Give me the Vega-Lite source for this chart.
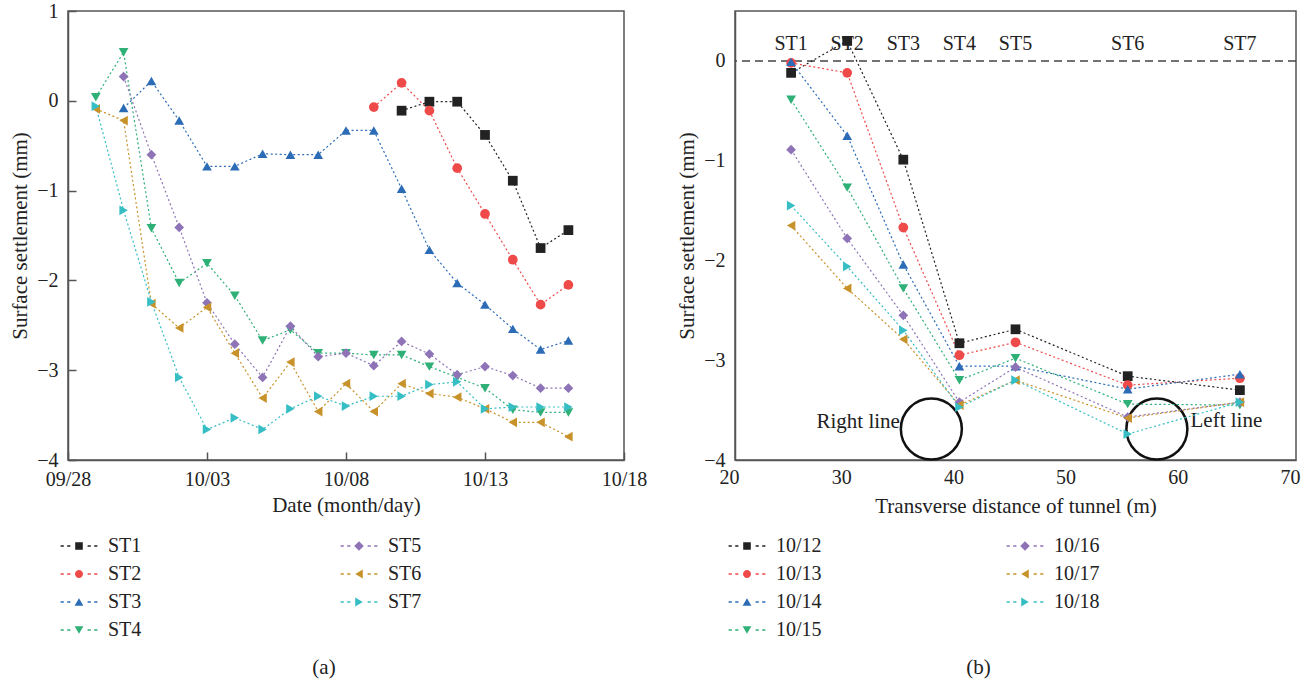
{
  "$schema": "https://vega.github.io/schema/vega-lite/v6.json",
  "padding": {"left": 8, "top": 0, "right": 0, "bottom": 0},
  "spacing": 27,
  "resolve": {"scale": {"fill": "independent", "stroke": "independent", "shape": "independent"}, "legend": {"fill": "independent", "stroke": "independent", "shape": "independent"}},
  "config": {
    "font": "Liberation Serif",
    "view": {"stroke": "#555555", "strokeWidth": 1.5},
    "axis": {"grid": false, "labelFont": "Liberation Serif", "titleFont": "Liberation Serif", "labelFontSize": 20, "titleFontSize": 21, "titleFontWeight": "normal", "labelColor": "#222222", "titleColor": "#222222", "domainColor": "#555555", "domainWidth": 1.5, "tickColor": "#555555", "tickWidth": 1.5, "labelFlush": false, "labelOverlap": false},
    "title": {"font": "Liberation Serif", "fontSize": 21, "fontWeight": "normal", "color": "#222222"},
    "legend": {"labelFont": "Liberation Serif", "labelFontSize": 20, "labelColor": "#222222", "symbolSize": 64, "symbolStrokeWidth": 0, "symbolOpacity": 1, "padding": 0, "rowPadding": 8, "labelOffset": 19}
  },
  "datasets": {
    "left": [
      {"series": "ST1", "date": "2019-10-10T00:00", "value": -0.11},
      {"series": "ST1", "date": "2019-10-11T00:00", "value": -0.01},
      {"series": "ST1", "date": "2019-10-12T00:00", "value": -0.01},
      {"series": "ST1", "date": "2019-10-13T00:00", "value": -0.38},
      {"series": "ST1", "date": "2019-10-14T00:00", "value": -0.89},
      {"series": "ST1", "date": "2019-10-15T00:00", "value": -1.64},
      {"series": "ST1", "date": "2019-10-16T00:00", "value": -1.44},
      {"series": "ST2", "date": "2019-10-09T00:00", "value": -0.07},
      {"series": "ST2", "date": "2019-10-10T00:00", "value": 0.20},
      {"series": "ST2", "date": "2019-10-11T00:00", "value": -0.11},
      {"series": "ST2", "date": "2019-10-12T00:00", "value": -0.75},
      {"series": "ST2", "date": "2019-10-13T00:00", "value": -1.26},
      {"series": "ST2", "date": "2019-10-14T00:00", "value": -1.77},
      {"series": "ST2", "date": "2019-10-15T00:00", "value": -2.27},
      {"series": "ST2", "date": "2019-10-16T00:00", "value": -2.05},
      {"series": "ST3", "date": "2019-09-30T00:00", "value": -0.08},
      {"series": "ST3", "date": "2019-10-01T00:00", "value": 0.22},
      {"series": "ST3", "date": "2019-10-02T00:00", "value": -0.22},
      {"series": "ST3", "date": "2019-10-03T00:00", "value": -0.73},
      {"series": "ST3", "date": "2019-10-04T00:00", "value": -0.73},
      {"series": "ST3", "date": "2019-10-05T00:00", "value": -0.59},
      {"series": "ST3", "date": "2019-10-06T00:00", "value": -0.60},
      {"series": "ST3", "date": "2019-10-07T00:00", "value": -0.60},
      {"series": "ST3", "date": "2019-10-08T00:00", "value": -0.33},
      {"series": "ST3", "date": "2019-10-09T00:00", "value": -0.33},
      {"series": "ST3", "date": "2019-10-10T00:00", "value": -0.98},
      {"series": "ST3", "date": "2019-10-11T00:00", "value": -1.66},
      {"series": "ST3", "date": "2019-10-12T00:00", "value": -2.03},
      {"series": "ST3", "date": "2019-10-13T00:00", "value": -2.27},
      {"series": "ST3", "date": "2019-10-14T00:00", "value": -2.54},
      {"series": "ST3", "date": "2019-10-15T00:00", "value": -2.77},
      {"series": "ST3", "date": "2019-10-16T00:00", "value": -2.67},
      {"series": "ST4", "date": "2019-09-29T00:00", "value": 0.04},
      {"series": "ST4", "date": "2019-09-30T00:00", "value": 0.54},
      {"series": "ST4", "date": "2019-10-01T00:00", "value": -1.42},
      {"series": "ST4", "date": "2019-10-02T00:00", "value": -2.03},
      {"series": "ST4", "date": "2019-10-03T00:00", "value": -1.81},
      {"series": "ST4", "date": "2019-10-04T00:00", "value": -2.17},
      {"series": "ST4", "date": "2019-10-05T00:00", "value": -2.67},
      {"series": "ST4", "date": "2019-10-06T00:00", "value": -2.55},
      {"series": "ST4", "date": "2019-10-07T00:00", "value": -2.81},
      {"series": "ST4", "date": "2019-10-08T00:00", "value": -2.81},
      {"series": "ST4", "date": "2019-10-09T00:00", "value": -2.83},
      {"series": "ST4", "date": "2019-10-10T00:00", "value": -2.83},
      {"series": "ST4", "date": "2019-10-11T00:00", "value": -2.96},
      {"series": "ST4", "date": "2019-10-12T00:00", "value": -3.08},
      {"series": "ST4", "date": "2019-10-13T00:00", "value": -3.20},
      {"series": "ST4", "date": "2019-10-14T00:00", "value": -3.44},
      {"series": "ST4", "date": "2019-10-15T00:00", "value": -3.47},
      {"series": "ST4", "date": "2019-10-16T00:00", "value": -3.47},
      {"series": "ST5", "date": "2019-09-30T00:00", "value": 0.27},
      {"series": "ST5", "date": "2019-10-01T00:00", "value": -0.60},
      {"series": "ST5", "date": "2019-10-02T00:00", "value": -1.41},
      {"series": "ST5", "date": "2019-10-03T00:00", "value": -2.25},
      {"series": "ST5", "date": "2019-10-04T00:00", "value": -2.71},
      {"series": "ST5", "date": "2019-10-05T00:00", "value": -3.08},
      {"series": "ST5", "date": "2019-10-06T00:00", "value": -2.51},
      {"series": "ST5", "date": "2019-10-07T00:00", "value": -2.85},
      {"series": "ST5", "date": "2019-10-08T00:00", "value": -2.81},
      {"series": "ST5", "date": "2019-10-09T00:00", "value": -2.95},
      {"series": "ST5", "date": "2019-10-10T00:00", "value": -2.68},
      {"series": "ST5", "date": "2019-10-11T00:00", "value": -2.82},
      {"series": "ST5", "date": "2019-10-12T00:00", "value": -3.05},
      {"series": "ST5", "date": "2019-10-13T00:00", "value": -2.96},
      {"series": "ST5", "date": "2019-10-14T00:00", "value": -3.06},
      {"series": "ST5", "date": "2019-10-15T00:00", "value": -3.20},
      {"series": "ST5", "date": "2019-10-16T00:00", "value": -3.20},
      {"series": "ST6", "date": "2019-09-29T00:00", "value": -0.09},
      {"series": "ST6", "date": "2019-09-30T00:00", "value": -0.22},
      {"series": "ST6", "date": "2019-10-01T00:00", "value": -2.26},
      {"series": "ST6", "date": "2019-10-02T00:00", "value": -2.53},
      {"series": "ST6", "date": "2019-10-03T00:00", "value": -2.30},
      {"series": "ST6", "date": "2019-10-04T00:00", "value": -2.81},
      {"series": "ST6", "date": "2019-10-05T00:00", "value": -3.31},
      {"series": "ST6", "date": "2019-10-06T00:00", "value": -2.91},
      {"series": "ST6", "date": "2019-10-07T00:00", "value": -3.46},
      {"series": "ST6", "date": "2019-10-08T00:00", "value": -3.15},
      {"series": "ST6", "date": "2019-10-09T00:00", "value": -3.46},
      {"series": "ST6", "date": "2019-10-10T00:00", "value": -3.15},
      {"series": "ST6", "date": "2019-10-11T00:00", "value": -3.26},
      {"series": "ST6", "date": "2019-10-12T00:00", "value": -3.30},
      {"series": "ST6", "date": "2019-10-13T00:00", "value": -3.43},
      {"series": "ST6", "date": "2019-10-14T00:00", "value": -3.58},
      {"series": "ST6", "date": "2019-10-15T00:00", "value": -3.58},
      {"series": "ST6", "date": "2019-10-16T00:00", "value": -3.74},
      {"series": "ST7", "date": "2019-09-29T00:00", "value": -0.06},
      {"series": "ST7", "date": "2019-09-30T00:00", "value": -1.22},
      {"series": "ST7", "date": "2019-10-01T00:00", "value": -2.24},
      {"series": "ST7", "date": "2019-10-02T00:00", "value": -3.08},
      {"series": "ST7", "date": "2019-10-03T00:00", "value": -3.66},
      {"series": "ST7", "date": "2019-10-04T00:00", "value": -3.53},
      {"series": "ST7", "date": "2019-10-05T00:00", "value": -3.66},
      {"series": "ST7", "date": "2019-10-06T00:00", "value": -3.43},
      {"series": "ST7", "date": "2019-10-07T00:00", "value": -3.29},
      {"series": "ST7", "date": "2019-10-08T00:00", "value": -3.40},
      {"series": "ST7", "date": "2019-10-09T00:00", "value": -3.29},
      {"series": "ST7", "date": "2019-10-10T00:00", "value": -3.29},
      {"series": "ST7", "date": "2019-10-11T00:00", "value": -3.16},
      {"series": "ST7", "date": "2019-10-12T00:00", "value": -3.13},
      {"series": "ST7", "date": "2019-10-13T00:00", "value": -3.43},
      {"series": "ST7", "date": "2019-10-14T00:00", "value": -3.41},
      {"series": "ST7", "date": "2019-10-15T00:00", "value": -3.41},
      {"series": "ST7", "date": "2019-10-16T00:00", "value": -3.41}
    ],
    "right": [
      {"day": "10/12", "distance": 25, "value": -0.12},
      {"day": "10/12", "distance": 30, "value": 0.20},
      {"day": "10/12", "distance": 35, "value": -0.99},
      {"day": "10/12", "distance": 40, "value": -2.83},
      {"day": "10/12", "distance": 45, "value": -2.69},
      {"day": "10/12", "distance": 55, "value": -3.16},
      {"day": "10/12", "distance": 65, "value": -3.30},
      {"day": "10/13", "distance": 25, "value": -0.02},
      {"day": "10/13", "distance": 30, "value": -0.12},
      {"day": "10/13", "distance": 35, "value": -1.67},
      {"day": "10/13", "distance": 40, "value": -2.95},
      {"day": "10/13", "distance": 45, "value": -2.82},
      {"day": "10/13", "distance": 55, "value": -3.25},
      {"day": "10/13", "distance": 65, "value": -3.18},
      {"day": "10/14", "distance": 25, "value": -0.01},
      {"day": "10/14", "distance": 30, "value": -0.75},
      {"day": "10/14", "distance": 35, "value": -2.04},
      {"day": "10/14", "distance": 40, "value": -3.06},
      {"day": "10/14", "distance": 45, "value": -3.06},
      {"day": "10/14", "distance": 55, "value": -3.29},
      {"day": "10/14", "distance": 65, "value": -3.14},
      {"day": "10/15", "distance": 25, "value": -0.39},
      {"day": "10/15", "distance": 30, "value": -1.27},
      {"day": "10/15", "distance": 35, "value": -2.28},
      {"day": "10/15", "distance": 40, "value": -3.20},
      {"day": "10/15", "distance": 45, "value": -2.98},
      {"day": "10/15", "distance": 55, "value": -3.44},
      {"day": "10/15", "distance": 65, "value": -3.45},
      {"day": "10/16", "distance": 25, "value": -0.89},
      {"day": "10/16", "distance": 30, "value": -1.78},
      {"day": "10/16", "distance": 35, "value": -2.55},
      {"day": "10/16", "distance": 40, "value": -3.42},
      {"day": "10/16", "distance": 45, "value": -3.07},
      {"day": "10/16", "distance": 55, "value": -3.57},
      {"day": "10/16", "distance": 65, "value": -3.42},
      {"day": "10/17", "distance": 25, "value": -1.65},
      {"day": "10/17", "distance": 30, "value": -2.28},
      {"day": "10/17", "distance": 35, "value": -2.79},
      {"day": "10/17", "distance": 40, "value": -3.45},
      {"day": "10/17", "distance": 45, "value": -3.20},
      {"day": "10/17", "distance": 55, "value": -3.58},
      {"day": "10/17", "distance": 65, "value": -3.42},
      {"day": "10/18", "distance": 25, "value": -1.45},
      {"day": "10/18", "distance": 30, "value": -2.06},
      {"day": "10/18", "distance": 35, "value": -2.70},
      {"day": "10/18", "distance": 40, "value": -3.47},
      {"day": "10/18", "distance": 45, "value": -3.20},
      {"day": "10/18", "distance": 55, "value": -3.74},
      {"day": "10/18", "distance": 65, "value": -3.42}
    ],
    "stations": [
      {"station": "ST1", "distance": 25, "level": 0},
      {"station": "ST2", "distance": 30, "level": 0},
      {"station": "ST3", "distance": 35, "level": 0},
      {"station": "ST4", "distance": 40, "level": 0},
      {"station": "ST5", "distance": 45, "level": 0},
      {"station": "ST6", "distance": 55, "level": 0},
      {"station": "ST7", "distance": 65, "level": 0}
    ],
    "reference": [{"level": 0}],
    "tunnels": [
      {"label": "Right line", "center": 37.5, "depth": -3.69, "textAt": 34.7, "textDepth": -3.62},
      {"label": "Left line", "center": 57.6, "depth": -3.69, "textAt": 60.6, "textDepth": -3.61}
    ]
  },
  "hconcat": [
    {
      "width": 556,
      "height": 449,
      "title": {"text": "(a)", "orient": "bottom", "anchor": "middle", "offset": 17, "dx": -22},
      "data": {"name": "left"},
      "encoding": {
        "x": {"field": "date", "type": "temporal",
          "scale": {"domain": [{"year": 2019, "month": 9, "date": 28}, {"year": 2019, "month": 10, "date": 18}], "nice": false},
          "axis": {"title": "Date (month/day)", "format": "%m/%d", "tickSize": -8, "labelPadding": 17, "titlePadding": 5,
            "values": [{"year": 2019, "month": 9, "date": 28}, {"year": 2019, "month": 10, "date": 3}, {"year": 2019, "month": 10, "date": 8}, {"year": 2019, "month": 10, "date": 13}, {"year": 2019, "month": 10, "date": 18}]}},
        "y": {"field": "value", "type": "quantitative",
          "scale": {"domain": [-4, 1], "nice": false, "zero": false},
          "axis": {"title": "Surface settlement (mm)", "values": [-4, -3, -2, -1, 0, 1], "format": ".0f", "tickSize": -8, "labelPadding": 18, "titlePadding": 6}}
      },
      "layer": [
        {
          "mark": {"type": "line", "strokeDash": [2, 2.5], "strokeWidth": 1.2},
          "encoding": {
            "stroke": {"field": "series", "type": "nominal", "legend": null,
              "scale": {"domain": ["ST7", "ST6", "ST5", "ST4", "ST3", "ST2", "ST1"], "range": ["#36bec4", "#c8922a", "#8e74b7", "#2fb077", "#2c6cb7", "#ef4a4a", "#222222"]}}
          }
        },
        {
          "mark": {"type": "point", "filled": true, "size": 95, "opacity": 1},
          "encoding": {
            "fill": {"field": "series", "type": "nominal",
              "scale": {"domain": ["ST1", "ST2", "ST3", "ST4", "ST5", "ST6", "ST7"], "range": ["#222222", "#ef4a4a", "#2c6cb7", "#2fb077", "#8e74b7", "#c8922a", "#36bec4"]},
              "legend": {"title": null, "orient": "none", "legendX": 1, "legendY": 525, "columns": 2, "columnPadding": 198,
                "encode": {"symbols": {"update": {"shape": {"signal": "datum.value==='ST1'?'M-0.95,-0.95H0.95V0.95H-0.95ZM-4.6,-0.16H-3.8V0.16H-4.6ZM-2.95,-0.16H-2.15V0.16H-2.95ZM2.15,-0.16H2.95V0.16H2.15ZM3.8,-0.16H4.6V0.16H3.8Z':datum.value==='ST2'?'M1,0A1,1,0,1,1,-1,0A1,1,0,1,1,1,0ZM-4.6,-0.16H-3.8V0.16H-4.6ZM-2.95,-0.16H-2.15V0.16H-2.95ZM2.15,-0.16H2.95V0.16H2.15ZM3.8,-0.16H4.6V0.16H3.8Z':datum.value==='ST3'?'M0,-0.95L1.1,0.95L-1.1,0.95ZM-4.6,-0.16H-3.8V0.16H-4.6ZM-2.95,-0.16H-2.15V0.16H-2.95ZM2.15,-0.16H2.95V0.16H2.15ZM3.8,-0.16H4.6V0.16H3.8Z':datum.value==='ST4'?'M0,0.95L1.1,-0.95L-1.1,-0.95ZM-4.6,-0.16H-3.8V0.16H-4.6ZM-2.95,-0.16H-2.15V0.16H-2.95ZM2.15,-0.16H2.95V0.16H2.15ZM3.8,-0.16H4.6V0.16H3.8Z':datum.value==='ST5'?'M-1.2,0L0,-1.2L1.2,0L0,1.2ZM-4.6,-0.16H-3.8V0.16H-4.6ZM-2.95,-0.16H-2.15V0.16H-2.95ZM2.15,-0.16H2.95V0.16H2.15ZM3.8,-0.16H4.6V0.16H3.8Z':datum.value==='ST6'?'M-0.95,0L0.95,-1.1L0.95,1.1ZM-4.6,-0.16H-3.8V0.16H-4.6ZM-2.95,-0.16H-2.15V0.16H-2.95ZM2.15,-0.16H2.95V0.16H2.15ZM3.8,-0.16H4.6V0.16H3.8Z':'M0.95,0L-0.95,-1.1L-0.95,1.1ZM-4.6,-0.16H-3.8V0.16H-4.6ZM-2.95,-0.16H-2.15V0.16H-2.95ZM2.15,-0.16H2.95V0.16H2.15ZM3.8,-0.16H4.6V0.16H3.8Z'"}}}}}},
            "shape": {"field": "series", "type": "nominal", "legend": null,
              "scale": {"domain": ["ST7", "ST6", "ST5", "ST4", "ST3", "ST2", "ST1"], "range": ["triangle-right", "triangle-left", "diamond", "triangle-down", "triangle-up", "circle", "square"]}}
          }
        }
      ]
    },
    {
      "width": 561,
      "height": 449,
      "title": {"text": "(b)", "orient": "bottom", "anchor": "middle", "offset": 17, "dx": -37},
      "layer": [
        {
          "data": {"name": "reference"},
          "mark": {"type": "rule", "strokeDash": [8, 5], "color": "#444444", "strokeWidth": 1.5},
          "encoding": {"y": {"field": "level", "type": "quantitative"}}
        },
        {
          "data": {"name": "stations"},
          "mark": {"type": "text", "baseline": "alphabetic", "dy": -11, "fontSize": 20, "color": "#222222"},
          "encoding": {"x": {"field": "distance", "type": "quantitative"}, "y": {"field": "level", "type": "quantitative"}, "text": {"field": "station"}}
        },
        {
          "data": {"name": "tunnels"},
          "mark": {"type": "point", "shape": "circle", "filled": false, "size": 3721, "stroke": "#111111", "strokeWidth": 2.5, "opacity": 1},
          "encoding": {"x": {"field": "center", "type": "quantitative"}, "y": {"field": "depth", "type": "quantitative"}}
        },
        {
          "data": {"name": "tunnels"},
          "transform": [{"filter": "datum.label === 'Right line'"}],
          "mark": {"type": "text", "align": "right", "baseline": "middle", "fontSize": 21, "color": "#222222"},
          "encoding": {"x": {"field": "textAt", "type": "quantitative"}, "y": {"field": "textDepth", "type": "quantitative"}, "text": {"field": "label"}}
        },
        {
          "data": {"name": "tunnels"},
          "transform": [{"filter": "datum.label === 'Left line'"}],
          "mark": {"type": "text", "align": "left", "baseline": "middle", "fontSize": 21, "color": "#222222"},
          "encoding": {"x": {"field": "textAt", "type": "quantitative"}, "y": {"field": "textDepth", "type": "quantitative"}, "text": {"field": "label"}}
        },
        {
          "data": {"name": "right"},
          "mark": {"type": "line", "strokeDash": [2, 2.5], "strokeWidth": 1.2},
          "encoding": {
            "x": {"field": "distance", "type": "quantitative",
              "scale": {"domain": [20, 70], "nice": false, "zero": false},
              "axis": {"title": "Transverse distance of tunnel (m)", "values": [20, 30, 40, 50, 60, 70], "format": ".0f", "ticks": false, "labelPadding": 7, "labelOffset": -6, "titlePadding": 8}},
            "y": {"field": "value", "type": "quantitative",
              "scale": {"domain": [-4, 0.5], "nice": false, "zero": false},
              "axis": {"title": "Surface settlement (mm)", "values": [-4, -3, -2, -1, 0], "format": ".0f", "ticks": false, "labelPadding": 10, "titlePadding": 6}},
            "stroke": {"field": "day", "type": "nominal", "legend": null,
              "scale": {"domain": ["10/18", "10/17", "10/16", "10/15", "10/14", "10/13", "10/12"], "range": ["#36bec4", "#c8922a", "#8e74b7", "#2fb077", "#2c6cb7", "#ef4a4a", "#222222"]}}
          }
        },
        {
          "data": {"name": "right"},
          "mark": {"type": "point", "filled": true, "size": 95, "opacity": 1},
          "encoding": {
            "x": {"field": "distance", "type": "quantitative"},
            "y": {"field": "value", "type": "quantitative"},
            "fill": {"field": "day", "type": "nominal",
              "scale": {"domain": ["10/12", "10/13", "10/14", "10/15", "10/16", "10/17", "10/18"], "range": ["#222222", "#ef4a4a", "#2c6cb7", "#2fb077", "#8e74b7", "#c8922a", "#36bec4"]},
              "legend": {"title": null, "orient": "none", "legendX": 2, "legendY": 525, "columns": 2, "columnPadding": 184,
                "encode": {"symbols": {"update": {"shape": {"signal": "datum.value==='10/12'?'M-0.95,-0.95H0.95V0.95H-0.95ZM-4.6,-0.16H-3.8V0.16H-4.6ZM-2.95,-0.16H-2.15V0.16H-2.95ZM2.15,-0.16H2.95V0.16H2.15ZM3.8,-0.16H4.6V0.16H3.8Z':datum.value==='10/13'?'M1,0A1,1,0,1,1,-1,0A1,1,0,1,1,1,0ZM-4.6,-0.16H-3.8V0.16H-4.6ZM-2.95,-0.16H-2.15V0.16H-2.95ZM2.15,-0.16H2.95V0.16H2.15ZM3.8,-0.16H4.6V0.16H3.8Z':datum.value==='10/14'?'M0,-0.95L1.1,0.95L-1.1,0.95ZM-4.6,-0.16H-3.8V0.16H-4.6ZM-2.95,-0.16H-2.15V0.16H-2.95ZM2.15,-0.16H2.95V0.16H2.15ZM3.8,-0.16H4.6V0.16H3.8Z':datum.value==='10/15'?'M0,0.95L1.1,-0.95L-1.1,-0.95ZM-4.6,-0.16H-3.8V0.16H-4.6ZM-2.95,-0.16H-2.15V0.16H-2.95ZM2.15,-0.16H2.95V0.16H2.15ZM3.8,-0.16H4.6V0.16H3.8Z':datum.value==='10/16'?'M-1.2,0L0,-1.2L1.2,0L0,1.2ZM-4.6,-0.16H-3.8V0.16H-4.6ZM-2.95,-0.16H-2.15V0.16H-2.95ZM2.15,-0.16H2.95V0.16H2.15ZM3.8,-0.16H4.6V0.16H3.8Z':datum.value==='10/17'?'M-0.95,0L0.95,-1.1L0.95,1.1ZM-4.6,-0.16H-3.8V0.16H-4.6ZM-2.95,-0.16H-2.15V0.16H-2.95ZM2.15,-0.16H2.95V0.16H2.15ZM3.8,-0.16H4.6V0.16H3.8Z':'M0.95,0L-0.95,-1.1L-0.95,1.1ZM-4.6,-0.16H-3.8V0.16H-4.6ZM-2.95,-0.16H-2.15V0.16H-2.95ZM2.15,-0.16H2.95V0.16H2.15ZM3.8,-0.16H4.6V0.16H3.8Z'"}}}}}},
            "shape": {"field": "day", "type": "nominal", "legend": null,
              "scale": {"domain": ["10/18", "10/17", "10/16", "10/15", "10/14", "10/13", "10/12"], "range": ["triangle-right", "triangle-left", "diamond", "triangle-down", "triangle-up", "circle", "square"]}}
          }
        }
      ]
    }
  ]
}
